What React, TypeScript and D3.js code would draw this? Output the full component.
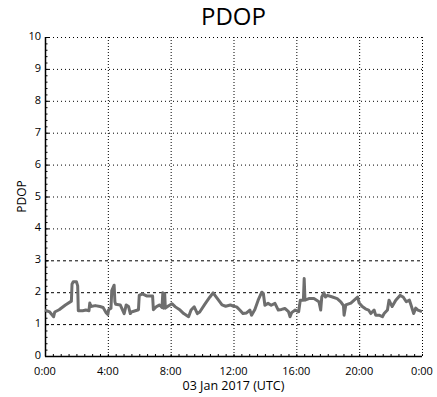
import React from "react";
import * as d3 from "d3";

const hours: number[] = [
  0, 0.3, 0.55, 0.62, 0.9, 1.3, 1.68, 1.72, 1.8, 2.0, 2.08, 2.12,
  2.4, 2.6, 2.8, 2.85, 2.92, 3.2, 3.5, 3.7, 3.9, 4.0, 4.05,
  4.2, 4.25, 4.4, 4.45, 4.5, 4.79, 5.04, 5.17, 5.32, 5.43, 5.5, 5.95,
  6.0, 6.2, 6.5, 6.85, 6.9, 7.1, 7.3, 7.45, 7.5, 7.55, 7.62, 7.66, 7.8,
  8.08, 8.3, 8.6, 8.83, 9.14, 9.3, 9.5, 9.7, 9.85, 10.2, 10.5, 10.7,
  11.0, 11.27, 11.5, 11.8, 12.0, 12.2, 12.4, 12.6, 12.83, 13.04, 13.15, 13.36,
  13.57, 13.8, 13.9, 14.0, 14.2, 14.4, 14.64, 14.85, 15.06, 15.27, 15.5, 15.6,
  15.7, 15.93, 16.15, 16.25, 16.45, 16.5, 16.55, 16.8, 17.12, 17.44, 17.55, 17.62,
  17.76, 17.85, 17.97, 18.3, 18.6, 18.83, 19.0, 19.04, 19.15, 19.47, 19.79, 19.9,
  20.0, 20.2, 20.4, 20.6, 20.74, 20.95, 21.05, 21.27, 21.48, 21.59, 21.8, 21.9,
  22.1, 22.33, 22.6, 22.8, 23.0, 23.2, 23.3, 23.47, 23.6, 23.74, 24.0,
];

const pdop: number[] = [
  1.44, 1.38, 1.23, 1.38, 1.45, 1.6, 1.72, 2.25, 2.33, 2.33, 2.2, 1.42,
  1.42, 1.44, 1.42, 1.66, 1.55, 1.58, 1.55, 1.52, 1.35, 1.3, 1.45,
  1.5, 2.05, 2.22, 1.7, 1.62, 1.6, 1.33, 1.6, 1.55, 1.33, 1.38, 1.45,
  1.9, 1.95, 1.88, 1.88, 1.45, 1.55, 1.6, 1.52, 1.98, 1.5, 1.96, 1.5, 1.55,
  1.64, 1.54, 1.44, 1.33, 1.23, 1.44, 1.54, 1.33, 1.38, 1.64, 1.85, 1.98,
  1.78, 1.6, 1.56, 1.6, 1.56, 1.54, 1.44, 1.33, 1.35, 1.44, 1.28, 1.46,
  1.75, 2.0, 1.96, 1.59, 1.65, 1.59, 1.65, 1.44, 1.46, 1.49, 1.39, 1.23,
  1.36, 1.44, 1.39, 1.75, 1.75, 2.43, 1.75, 1.8, 1.8, 1.7, 1.44, 1.85,
  1.98, 1.85, 1.9, 1.85, 1.8, 1.7, 1.58, 1.28, 1.6, 1.66, 1.8, 1.85,
  1.66, 1.55, 1.48, 1.44, 1.33, 1.44, 1.28, 1.28, 1.23, 1.33, 1.44, 1.75,
  1.55, 1.75, 1.9, 1.85, 1.7, 1.75, 1.6, 1.33, 1.5, 1.44, 1.39,
];

const yTicks: number[] = [0, 1, 2, 3, 4, 5, 6, 7, 8, 9, 10];
const xTicks: number[] = [0, 4, 8, 12, 16, 20, 24];
const xTickLabels: string[] = ["0:00", "4:00", "8:00", "12:00", "16:00", "20:00", "0:00"];

const W = 437;
const H = 397;
const m = { left: 45, right: 422, top: 37, bottom: 356 };
const font = "'Open Sans', sans-serif";

export default function App() {
  const x = d3.scaleLinear().domain([0, 24]).range([m.left, m.right]);
  const y = d3.scaleLinear().domain([0, 10]).range([m.bottom, m.top]);
  const pts = hours.map((h, i) => [h, pdop[i]] as [number, number]);
  const line = d3
    .line<[number, number]>()
    .x((d) => x(d[0]))
    .y((d) => y(d[1]));
  const minorY = d3.range(0, 10.001, 0.2);
  const minorX = d3.range(0, 24.001, 0.5);

  return (
    <svg
      width={W}
      height={H}
      style={{ position: "absolute", left: 0, top: 0, background: "#fff" }}
    >
      <text x={(m.left + m.right) / 2} y={25} textAnchor="middle" fontFamily={font} fontSize={24} fill="#000">
        PDOP
      </text>
      {yTicks.slice(1).map((t) => (
        <line
          key={"hy" + t}
          x1={m.left}
          x2={m.right}
          y1={y(t) + 0.5}
          y2={y(t) + 0.5}
          stroke="#000"
          strokeWidth={1}
          strokeDasharray={t <= 3 ? "3,3" : "1,3"}
        />
      ))}
      {xTicks.slice(1).map((t) => (
        <line
          key={"vx" + t}
          x1={x(t) + 0.5}
          x2={x(t) + 0.5}
          y1={m.top}
          y2={m.bottom}
          stroke="#000"
          strokeWidth={1}
          strokeDasharray="1,2"
        />
      ))}
      <line x1={m.left + 0.5} x2={m.left + 0.5} y1={m.top} y2={m.bottom + 0.5} stroke="#000" strokeWidth={1.5} />
      <line x1={m.left} x2={m.right} y1={m.bottom + 0.5} y2={m.bottom + 0.5} stroke="#000" strokeWidth={1.5} />
      {minorY.map((t, i) => (
        <line key={"my" + i} x1={m.left} x2={m.left + 2.5} y1={y(t) + 0.5} y2={y(t) + 0.5} stroke="#000" strokeWidth={1} />
      ))}
      {yTicks.map((t) => (
        <line key={"ty" + t} x1={m.left} x2={m.left + 4} y1={y(t) + 0.5} y2={y(t) + 0.5} stroke="#000" strokeWidth={1} />
      ))}
      {minorX.map((t, i) => (
        <line key={"mx" + i} x1={x(t) + 0.5} x2={x(t) + 0.5} y1={m.bottom} y2={m.bottom - 2} stroke="#000" strokeWidth={1} />
      ))}
      {yTicks.map((t) => (
        <text key={"ly" + t} x={m.left - 4} y={y(t) + 3} textAnchor="end" fontFamily={font} fontSize={11} fill="#000">
          {t}
        </text>
      ))}
      {xTicks.map((t, i) => (
        <text key={"lx" + t} x={x(t)} y={375} textAnchor="middle" fontFamily={font} fontSize={11} fill="#000">
          {xTickLabels[i]}
        </text>
      ))}
      <text x={(m.left + m.right) / 2} y={390} textAnchor="middle" fontFamily={font} fontSize={12.5} fill="#000">
        03 Jan 2017 (UTC)
      </text>
      <text
        transform={`translate(26,${(m.top + m.bottom) / 2}) rotate(-90)`}
        textAnchor="middle"
        fontFamily={font}
        fontSize={12}
        fill="#000"
      >
        PDOP
      </text>
      <path d={line(pts) || ""} fill="none" stroke="#6e6e6e" strokeWidth={3} strokeLinejoin="round" />
    </svg>
  );
}
